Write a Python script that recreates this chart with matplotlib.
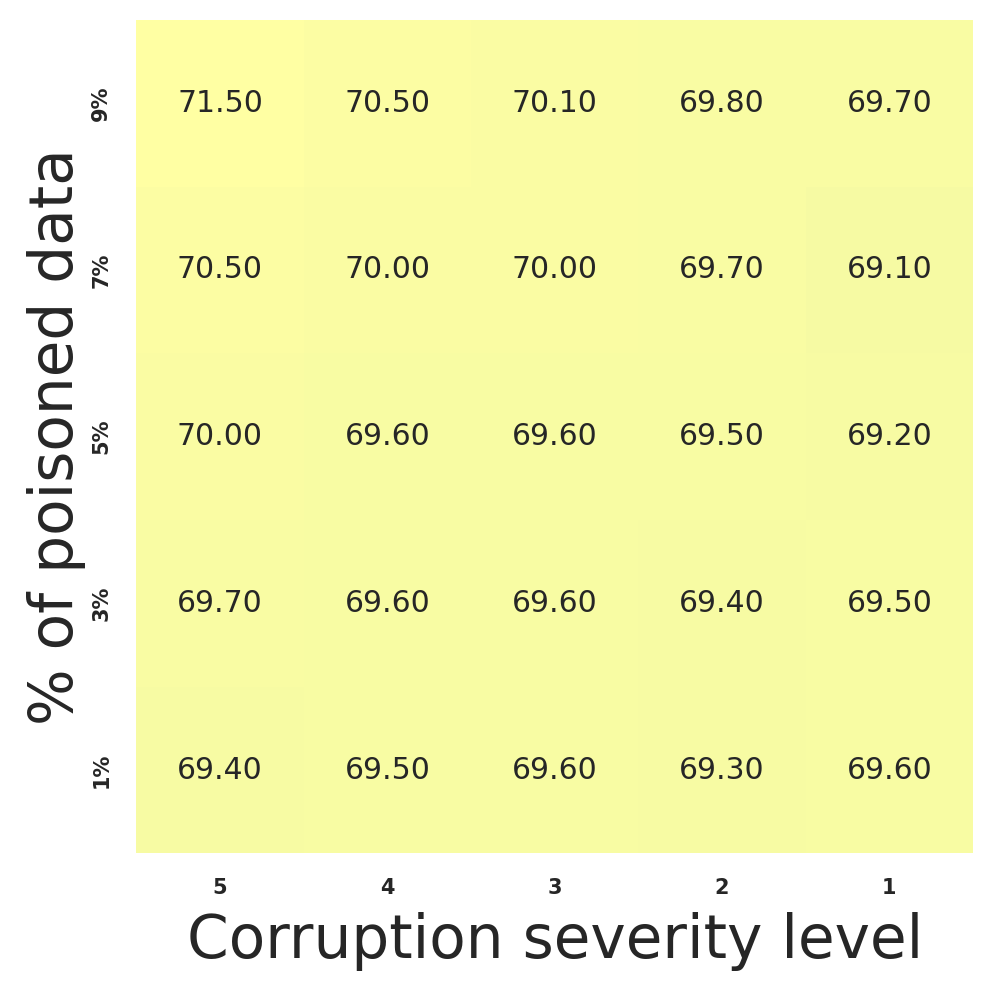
import numpy as np
import matplotlib
matplotlib.use("Agg")
import matplotlib.pyplot as plt
import seaborn as sns

severity = ['5', '4', '3', '2', '1']
poisoned = ['9%', '7%', '5%', '3%', '1%']
acc = np.array([
    [71.50, 70.50, 70.10, 69.80, 69.70],
    [70.50, 70.00, 70.00, 69.70, 69.10],
    [70.00, 69.60, 69.60, 69.50, 69.20],
    [69.70, 69.60, 69.60, 69.40, 69.50],
    [69.40, 69.50, 69.60, 69.30, 69.60],
])

sns.set_theme(style='white')

fig = plt.figure(figsize=(9.95, 9.9), dpi=100)
ax = fig.add_axes([0.137, 0.138, 0.841, 0.842])
sns.heatmap(acc, ax=ax, cmap='summer', vmin=28, vmax=71.5, alpha=0.6,
            annot=True, fmt='.2f', annot_kws={'size': 21.5, 'color': '#262626'},
            cbar=False, xticklabels=severity, yticklabels=poisoned)
ax.tick_params(length=0, pad=18)
for lab in ax.get_xticklabels() + ax.get_yticklabels():
    lab.set_fontweight('bold')
    lab.set_fontsize(15)
plt.setp(ax.get_yticklabels(), rotation=90, va='center')
ax.set_xlabel('Corruption severity level', fontsize=43, labelpad=10)
ax.set_ylabel('% of poisoned data', fontsize=43, labelpad=4)

plt.savefig('out.png', dpi=100)
